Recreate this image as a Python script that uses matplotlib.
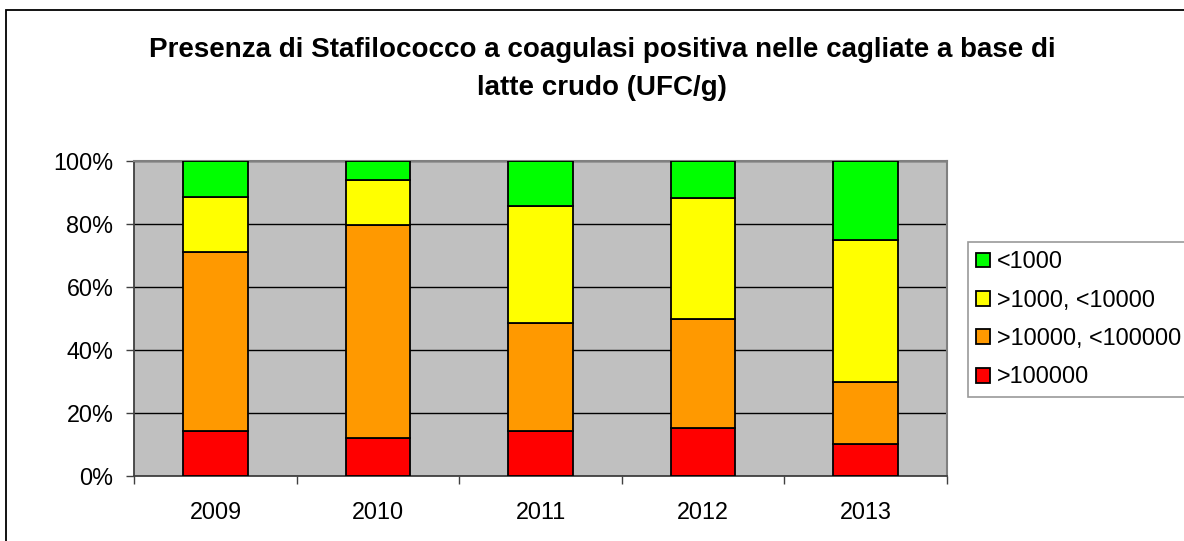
import matplotlib
matplotlib.use("Agg")
import matplotlib.pyplot as plt
from matplotlib.patches import Rectangle
import numpy as np

plt.rcParams['font.family'] = ['Liberation Sans', 'DejaVu Sans']

years = ["2009", "2010", "2011", "2012", "2013"]
series_labels = [">100000", ">10000, <100000", ">1000, <10000", "<1000"]
pct_over_100000 = [14.3, 11.9, 14.3, 15.1, 10.1]
pct_10000_100000 = [56.9, 67.8, 34.2, 34.6, 19.8]
pct_1000_10000 = [17.5, 14.3, 37.3, 38.4, 45.0]
pct_under_1000 = [11.3, 6.0, 14.2, 11.9, 25.1]
series_colors = ["#FF0000", "#FF9900", "#FFFF00", "#00FF00"]

W, H = 1184, 541
fig = plt.figure(figsize=(W / 100, H / 100), dpi=100)
fig.patch.set_facecolor("white")

# outer chart frame (left and top edges visible)
fig.add_artist(Rectangle((6 / W, -0.2), 2.0, 1.2 - 10 / H,
                         transform=fig.transFigure, fill=False,
                         edgecolor="black", linewidth=1.3))

ax = fig.add_axes([134.3 / W, (H - 475.7) / H, (946.7 - 134.3) / W, (475.7 - 161) / H])
ax.set_facecolor("#C0C0C0")

x = np.arange(len(years))
series = [pct_over_100000, pct_10000_100000, pct_1000_10000, pct_under_1000]
bottom = np.zeros(len(years))
handles = []
for vals, col, lab in zip(series, series_colors, series_labels):
    b = ax.bar(x, vals, width=0.395, bottom=bottom, color=col,
               edgecolor="black", linewidth=1.3, label=lab, zorder=3)
    handles.append(b)
    bottom += np.array(vals)

ax.set_xlim(-0.5, len(years) - 0.5)
ax.set_ylim(0, 100)
ax.set_yticks([0, 20, 40, 60, 80, 100])
ax.set_yticklabels(["0%", "20%", "40%", "60%", "80%", "100%"])
ax.yaxis.grid(True, color="black", linewidth=1.0, zorder=1)
ax.set_axisbelow(True)

ax.set_xticks(x)
ax.set_xticklabels(years)
ax.set_xticks(np.arange(-0.5, len(years), 1.0), minor=True)
ax.tick_params(axis="x", which="major", length=0, pad=18, labelsize=16.8)
ax.tick_params(axis="x", which="minor", length=6, width=1, color="#404040", direction="out")
ax.tick_params(axis="y", which="major", length=6, width=1, color="#404040",
               pad=9, labelsize=16.8, direction="out")

for side in ["top", "right"]:
    ax.spines[side].set_color("#808080")
    ax.spines[side].set_linewidth(1.5)
for side in ["left", "bottom"]:
    ax.spines[side].set_color("#404040")
    ax.spines[side].set_linewidth(1.3)

fig.text(602 / W, 1 - 57 / H,
         "Presenza di Stafilococco a coagulasi positiva nelle cagliate a base di",
         ha="center", va="baseline", fontsize=20, fontweight="bold")
fig.text(602 / W, 1 - 95 / H, "latte crudo (UFC/g)",
         ha="center", va="baseline", fontsize=20, fontweight="bold")

leg = fig.legend(handles[::-1], series_labels[::-1], loc="upper left",
                 bbox_to_anchor=(967.7 / W, 1 - 242 / H),
                 frameon=True, fancybox=False, fontsize=16.8,
                 handlelength=0.6, handleheight=0.6, handletextpad=0.3,
                 labelspacing=0.66, borderpad=0.35, borderaxespad=0)
leg.get_frame().set_edgecolor("#808080")
leg.get_frame().set_linewidth(1.2)
for p in leg.get_patches():
    p.set_linewidth(1.3)

fig.savefig("out.png", dpi=100, facecolor="white")
